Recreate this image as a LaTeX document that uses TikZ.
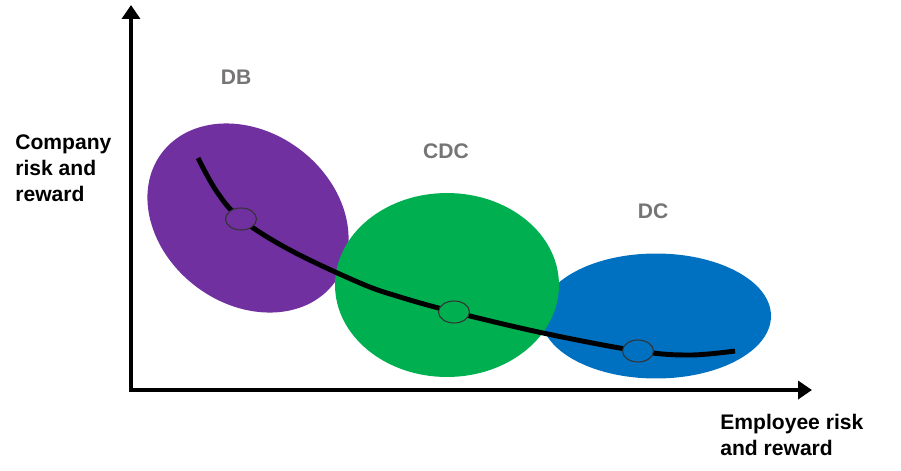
\documentclass[tikz,border=0pt]{standalone}
\usepackage{fontspec}
\setmainfont{Liberation Sans}
\usetikzlibrary{arrows.meta,shapes.geometric}

\definecolor{dbpurple}{RGB}{112,48,160}
\definecolor{cdcgreen}{RGB}{0,176,80}
\definecolor{dcblue}{RGB}{0,112,192}
\definecolor{labelgray}{RGB}{118,116,116}

\begin{document}
\begin{tikzpicture}[
            x=0.02cm, y=-0.02cm,
            scheme/.style={
                ellipse,
                draw=none,
                inner sep=0pt
            },
            marker/.style={
                ellipse,
                draw=black!80,
                line width=0.6pt,
                minimum width=0.62cm,
                minimum height=0.44cm,
                inner sep=0pt
            },
            schemelabel/.style={
                text=labelgray,
                font=\fontsize{12}{14}\selectfont\bfseries
            },
            axislabel/.style={
                align=left,
                anchor=north west,
                inner sep=0pt,
                font=\fontsize{12}{14.8}\selectfont\bfseries
            },
            axis/.style={
                line width=2.3pt,
                {Triangle[width=0.36cm,length=0.28cm]}-{Triangle[width=0.36cm,length=0.28cm]}
            }
        ]

            \useasboundingbox (0,0) rectangle (901,470);

            % the three pension schemes
            \node[scheme, fill=dbpurple, minimum width=4.32cm,
                minimum height=3.44cm, rotate=-37] (db) at (248,218) {};
            \node[scheme, fill=dcblue, minimum width=4.6cm,
                minimum height=2.5cm] (dc) at (656,316) {};
            \node[scheme, fill=cdcgreen, minimum width=4.48cm,
                minimum height=3.68cm] (cdc) at (447,285) {};

            \node[schemelabel] (dblabel) at (236,77) {DB};
            \node[schemelabel] (cdclabel) at (446,151) {CDC};
            \node[schemelabel] (dclabel) at (653,211) {DC};

            % axes
            \coordinate (ytop) at (131,5);
            \coordinate (origin) at (131,390);
            \coordinate (xend) at (812,390);
            \draw[axis] (ytop) -- (origin) -- (xend);

            \node[axislabel] (ylabel) at (15,134) {Company\\risk and\\reward};
            \node[axislabel] (xlabel) at (720,414) {Employee risk\\and reward};

            % trade-off curve
            \draw[line width=2.8pt] plot[smooth, tension=0.6] coordinates {
                (198,158) (217,192) (241,219) (290,250) (360,283)
                (400,297) (454,312) (543,333) (638,351) (690,355) (735,351)};

            \node[marker, fill=dbpurple] (dbpoint) at (241,219) {};
            \node[marker, fill=cdcgreen] (cdcpoint) at (454,312) {};
            \node[marker, fill=dcblue] (dcpoint) at (638,351) {};

        \end{tikzpicture}
\end{document}
